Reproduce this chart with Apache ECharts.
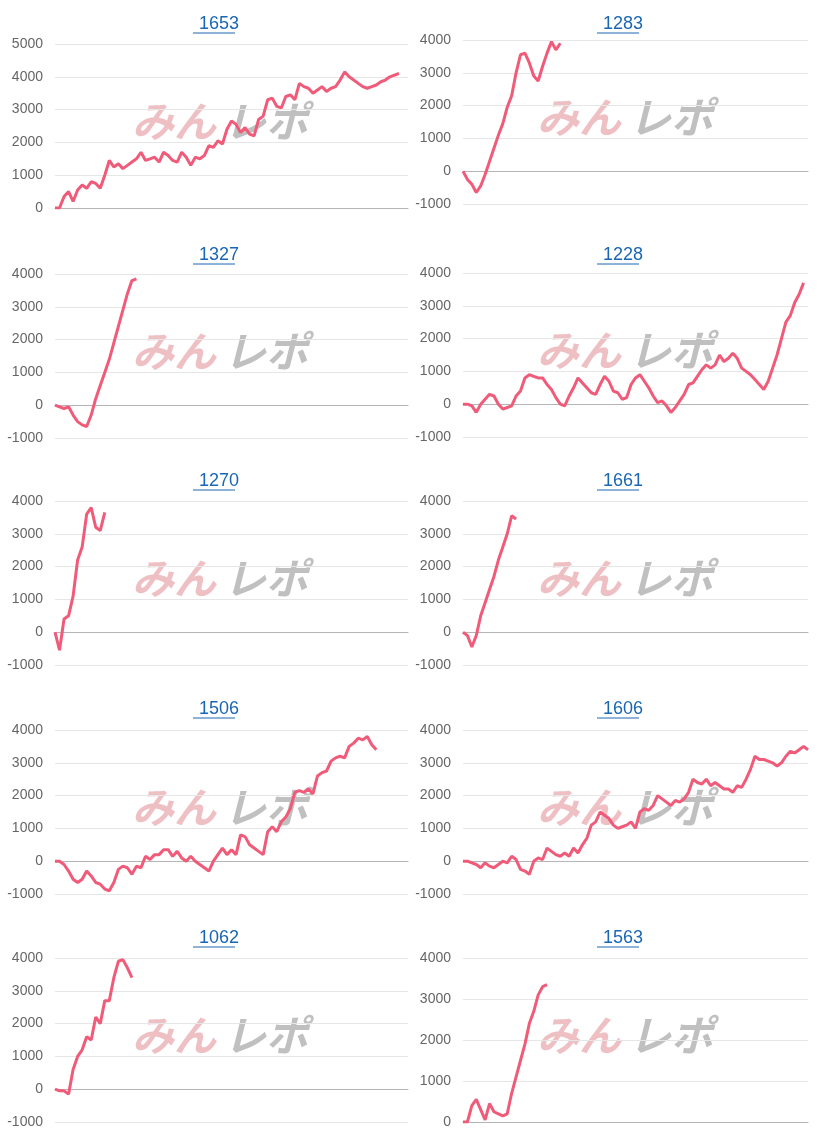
<!DOCTYPE html>
<html>
<head>
<meta charset="utf-8">
<script src="https://cdn.jsdelivr.net/npm/echarts@6/dist/echarts.min.js"></script>
<style>
  html, body { margin: 0; padding: 0; background: #fff; }
  #chart { width: 818px; height: 1140px; }
</style>
</head>
<body>
<div id="chart"></div>
<script>
// 各銘柄の損益推移
var titles = ['1653', '1283', '1327', '1228', '1270', '1661', '1506', '1606', '1062', '1563'];

var s1653 = [0, 0, 350, 500, 200, 550, 700, 600, 800, 750, 600, 1000, 1450, 1250, 1350, 1200, 1300, 1400, 1500, 1700,
  1450, 1500, 1550, 1400, 1700, 1600, 1450, 1400, 1700, 1550, 1300, 1550, 1500, 1600, 1900, 1850, 2050, 1950, 2400, 2650,
  2550, 2300, 2450, 2250, 2200, 2700, 2800, 3300, 3350, 3100, 3050, 3400, 3450, 3300, 3800, 3700, 3650, 3500, 3600, 3700,
  3550, 3650, 3700, 3900, 4150, 4000, 3900, 3800, 3700, 3650, 3700, 3750, 3850, 3900, 4000, 4050, 4100];
var s1283 = [0, -250, -400, -650, -450, -100, 300, 700, 1100, 1450, 1950, 2300, 3000, 3550, 3600, 3300, 2900, 2750, 3200, 3600, 3950, 3700, 3900];
var s1327 = [0, -50, -100, -50, -300, -500, -600, -650, -300, 200, 600, 1000, 1400, 1900, 2400, 2900, 3400, 3800, 3850];
var s1228 = [0, 0, -50, -250, 0, 150, 300, 250, 0, -150, -100, -50, 250, 400, 800, 900, 850, 800, 800, 600,
  450, 200, 0, -50, 250, 500, 800, 650, 500, 350, 300, 600, 850, 700, 400, 350, 150, 200, 600, 800,
  900, 700, 500, 250, 50, 100, -50, -250, -100, 100, 300, 600, 650, 850, 1050, 1200, 1100, 1200, 1500, 1300,
  1400, 1550, 1400, 1100, 1000, 900, 750, 600, 450, 700, 1100, 1500, 2000, 2500, 2700, 3100, 3350, 3700];
var s1270 = [0, -550, 400, 500, 1100, 2200, 2600, 3600, 3800, 3200, 3100, 3650];
var s1661 = [0, -100, -450, -100, 500, 900, 1300, 1700, 2200, 2600, 3000, 3550, 3450];
var s1506 = [0, 0, -100, -300, -550, -650, -550, -300, -450, -650, -700, -850, -900, -650, -250, -150, -200, -400, -150, -200,
  150, 50, 200, 200, 350, 350, 150, 300, 100, 0, 150, 0, -100, -200, -300, 0, 200, 400, 200, 350,
  200, 800, 750, 500, 400, 300, 200, 900, 1050, 900, 1200, 1350, 1600, 2100, 2150, 2100, 2200, 2050, 2600, 2700,
  2750, 3050, 3150, 3200, 3150, 3500, 3600, 3750, 3700, 3800, 3550, 3400];
var s1606 = [0, 0, -50, -100, -200, -50, -150, -200, -100, 0, -50, 150, 50, -250, -300, -400, 0, 100, 50, 400,
  300, 200, 150, 250, 150, 400, 250, 500, 700, 1100, 1200, 1500, 1400, 1300, 1100, 1000, 1050, 1100, 1200, 1000,
  1500, 1600, 1550, 1700, 2000, 1900, 1800, 1700, 1850, 1800, 1900, 2100, 2500, 2400, 2350, 2500, 2300, 2400, 2300, 2200,
  2200, 2100, 2300, 2250, 2500, 2800, 3200, 3100, 3100, 3050, 3000, 2900, 3000, 3200, 3350, 3300, 3400, 3500, 3400];
var s1062 = [0, -50, -50, -150, 600, 1000, 1200, 1600, 1500, 2200, 2000, 2700, 2700, 3400, 3900, 3950, 3700, 3400];
var s1563 = [0, 0, 400, 550, 300, 50, 450, 250, 200, 150, 200, 700, 1100, 1500, 1900, 2400, 2700, 3100, 3300, 3350];

var seriesData = [s1653, s1283, s1327, s1228, s1270, s1661, s1506, s1606, s1062, s1563];
var yMin = [0, -1000, -1000, -1000, -1000, -1000, -1000, -1000, -1000, 0];
var yMax = [5000, 4000, 4000, 4000, 4000, 4000, 4000, 4000, 4000, 4000];

var slots = [];
for (var i = 0; i < 79; i++) slots.push(i);

// panel geometry
var rowTop = [44, 274, 501, 730, 958];
var rowTopR = [40, 273, 501, 730, 958];
var titleY = [10, 241, 467, 695, 924];
var plotH = 164;

var grids = [], xAxes = [], yAxes = [], series = [], titleList = [], graphics = [];
seriesData.forEach(function (d, k) {
  var col = k % 2, row = Math.floor(k / 2);
  var left = col === 0 ? 55 : 463;
  var right = col === 0 ? 410 : 10;
  var top = col === 0 ? rowTop[row] : rowTopR[row];
  grids.push({ left: left, right: right, top: top, height: plotH });
  xAxes.push({
    type: 'category', gridIndex: k, data: slots, boundaryGap: false,
    axisLine: { lineStyle: { color: '#b5b5b5' } },
    axisTick: { show: false }, axisLabel: { show: false }
  });
  yAxes.push({
    type: 'value', gridIndex: k, min: yMin[k], max: yMax[k], interval: 1000,
    axisLine: { show: false }, axisTick: { show: false },
    axisLabel: { color: '#666', fontSize: 14, margin: 12, fontFamily: 'Arial, Liberation Sans',
      formatter: function (v) { return String(v); } },
    splitLine: { lineStyle: { color: '#e6e6e6' } }
  });
  series.push({
    type: 'line', xAxisIndex: k, yAxisIndex: k, data: d, showSymbol: false,
    lineStyle: { color: '#ef5b79', width: 3 }, itemStyle: { color: '#ef5b79' }
  });
  var cx = col === 0 ? 214 : 618;
  titleList.push({
    text: titles[k], left: cx, top: titleY[row], textAlign: 'center',
    textStyle: { color: '#1a66b3', fontSize: 18, fontWeight: 'normal', fontFamily: 'Arial, Liberation Sans' }
  });
  graphics.push({
    type: 'line', shape: { x1: cx - 21, y1: titleY[row] + 23, x2: cx + 21, y2: titleY[row] + 23 },
    style: { stroke: '#1a66b3', lineWidth: 1 }
  });
  var wx = col === 0 ? 132 : 537;
  var wy = top + 56;
  graphics.push({
    type: 'text', x: wx, y: wy, z: 0,
    style: { text: 'みん', fill: 'rgba(226,150,156,0.6)', font: 'italic bold 42px "Noto Sans CJK JP"' }
  });
  graphics.push({
    type: 'text', x: wx + 92, y: wy, z: 0,
    style: { text: 'レポ', fill: 'rgba(150,150,150,0.6)', font: 'italic bold 42px "Noto Sans CJK JP"' }
  });
});

var chart = echarts.init(document.getElementById('chart'));
chart.setOption({
  animation: false,
  title: titleList,
  grid: grids,
  xAxis: xAxes,
  yAxis: yAxes,
  series: series,
  graphic: graphics
});
</script>
</body>
</html>
